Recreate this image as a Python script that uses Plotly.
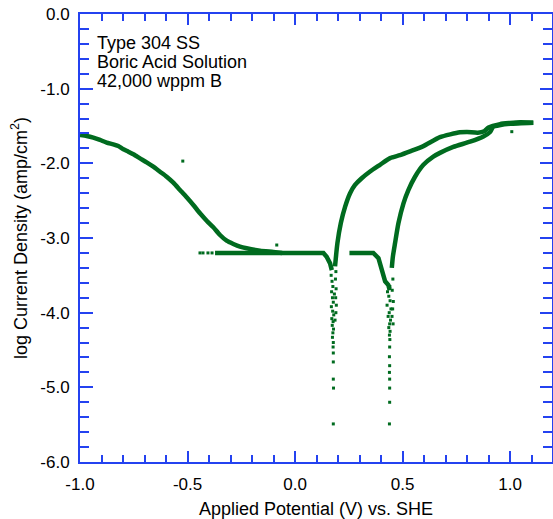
import plotly.graph_objects as go

GREEN = "#006b1f"
BLUE = "#2442f0"
FONT = "Liberation Sans, Arial, Helvetica, sans-serif"

# Cathodic branch (forward scan from -1.0 V)
cath_v = [-1.0, -0.969, -0.938, -0.907, -0.876, -0.845, -0.822, -0.798, -0.775, -0.752,
          -0.721, -0.690, -0.659, -0.628, -0.597, -0.566, -0.535, -0.504, -0.473, -0.442,
          -0.411, -0.380, -0.349, -0.318, -0.287, -0.256, -0.225, -0.163, -0.101, -0.06]
cath_logi = [-1.620, -1.634, -1.656, -1.687, -1.723, -1.745, -1.768, -1.812, -1.844, -1.879,
             -1.933, -1.986, -2.045, -2.112, -2.179, -2.259, -2.357, -2.455, -2.558, -2.669,
             -2.768, -2.857, -2.960, -3.036, -3.080, -3.116, -3.138, -3.170, -3.187, -3.20]

# Passive plateau 1
pas1_v = [-0.372, -0.2, 0.0, 0.132, 0.147, 0.163, 0.171]
pas1_logi = [-3.20, -3.20, -3.20, -3.20, -3.25, -3.34, -3.43]

# Anodic branch (forward scan, upper curve)
an_v = [0.186, 0.197, 0.213, 0.233, 0.256, 0.279, 0.310, 0.349, 0.395, 0.442, 0.488,
        0.535, 0.597, 0.674, 0.767, 0.80, 0.85, 0.88, 0.90, 0.953, 1.0, 1.047, 1.108]
an_logi = [-3.38, -3.07, -2.80, -2.58, -2.40, -2.29, -2.20, -2.11, -2.02, -1.93, -1.89,
           -1.84, -1.77, -1.65, -1.585, -1.58, -1.59, -1.57, -1.52, -1.475, -1.46, -1.45, -1.455]

# Reverse scan (lower curve)
rev_v = [1.108, 1.0, 0.95, 0.922, 0.907, 0.876, 0.814, 0.736, 0.674, 0.643, 0.597,
         0.558, 0.527, 0.504, 0.481, 0.465, 0.455, 0.450]
rev_logi = [-1.455, -1.47, -1.49, -1.51, -1.58, -1.64, -1.71, -1.78, -1.86, -1.91, -2.02,
            -2.18, -2.36, -2.54, -2.80, -3.07, -3.25, -3.40]

# Passive plateau 2
pas2_v = [0.253, 0.30, 0.364, 0.388, 0.395, 0.411, 0.419, 0.434, 0.440]
pas2_logi = [-3.20, -3.20, -3.20, -3.27, -3.34, -3.45, -3.58, -3.63, -3.70]

# Scattered points around the first current minimum
sp1_v = [0.168, 0.172, 0.176, 0.170, 0.174, 0.178, 0.169, 0.175, 0.180, 0.171, 0.177,
         0.173, 0.179, 0.176, 0.174, 0.178, 0.177, 0.178, 0.178, 0.178, 0.179, 0.178,
         0.190, 0.188, 0.191, 0.189, 0.192, 0.190, 0.186, 0.183]
sp1_logi = [-3.50, -3.58, -3.65, -3.72, -3.80, -3.86, -3.92, -3.98, -4.03, -4.08, -4.12,
            -4.17, -4.22, -4.27, -4.33, -4.40, -4.46, -4.54, -4.66, -4.89, -5.01, -5.49,
            -3.45, -3.55, -3.68, -3.80, -3.90, -4.00, -4.10, -3.75]

# Scattered points around the second current minimum
sp2_v = [0.430, 0.436, 0.442, 0.428, 0.446, 0.438, 0.433, 0.444, 0.440, 0.436, 0.442,
         0.439, 0.441, 0.440, 0.439, 0.440, 0.439, 0.440, 0.440, 0.440, 0.439, 0.441,
         0.455, 0.452, 0.457, 0.454, 0.451, 0.456]
sp2_logi = [-3.72, -3.78, -3.84, -3.90, -3.95, -4.00, -4.05, -4.10, -4.15, -4.20, -4.25,
            -4.30, -4.36, -4.46, -4.59, -4.71, -4.80, -4.89, -5.01, -5.20, -5.49, -3.65,
            -3.55, -3.70, -3.85, -3.95, -4.05, -4.15]

# Stray points
stray_v = [-0.442, -0.428, -0.405, -0.386, -0.522, -0.085, 1.008]
stray_logi = [-3.20, -3.20, -3.20, -3.20, -1.97, -3.094, -1.576]

# Tick values and labels
x_ticks = [-1.0, -0.5, 0.0, 0.5, 1.0]
x_tick_text = ["-1.0", "-0.5", "0.0", "0.5", "1.0"]
y_ticks = [0, -1, -2, -3, -4, -5, -6]
y_tick_text = ["0.0", "-1.0", "-2.0", "-3.0", "-4.0", "-5.0", "-6.0"]

# Annotation text
label_lines = ["Type 304 SS", "Boric Acid Solution", "42,000 wppm B"]
label_y = [-0.39, -0.645, -0.90]

fig = go.Figure()


def add_line(v, y, w=4.5, shape="linear"):
    fig.add_trace(go.Scatter(x=v, y=y, mode="lines",
                             line=dict(color=GREEN, width=w, shape=shape, smoothing=0.6),
                             hoverinfo="skip", showlegend=False))


def add_pts(v, y, s=3):
    fig.add_trace(go.Scatter(x=v, y=y, mode="markers",
                             marker=dict(color=GREEN, size=s, symbol="square", line=dict(width=0)),
                             hoverinfo="skip", showlegend=False))


add_line(cath_v, cath_logi, shape="spline")
add_line(pas1_v, pas1_logi)
add_line(an_v, an_logi, shape="spline")
add_line(rev_v, rev_logi, shape="spline")
add_line(pas2_v, pas2_logi)
add_pts(sp1_v, sp1_logi)
add_pts(sp2_v, sp2_logi)
add_pts(stray_v, stray_logi)

for txt, yy in zip(label_lines, label_y):
    fig.add_annotation(x=-0.93, y=yy, xref="x", yref="y", text=txt, showarrow=False,
                       xanchor="left", yanchor="middle",
                       font=dict(family=FONT, size=18, color="black"))

axis_common = dict(
    showgrid=False, zeroline=False, showline=True, linecolor=BLUE, linewidth=2,
    mirror="allticks", ticks="inside", tickcolor=BLUE, tickwidth=2,
    tickfont=dict(family=FONT, size=17, color="black"),
    tickmode="array",
)

fig.update_xaxes(
    **axis_common, range=[-1.0, 1.195], tickvals=x_ticks, ticktext=x_tick_text,
    ticklen=11, ticklabelstandoff=6,
    minor=dict(dtick=0.1, tick0=0, ticks="inside", ticklen=7, tickwidth=2,
               tickcolor=BLUE, showgrid=False),
    title=dict(text="Applied Potential (V) vs. SHE",
               font=dict(family=FONT, size=18, color="black"), standoff=10),
)
fig.update_yaxes(
    **axis_common, range=[-6, 0], tickvals=y_ticks, ticktext=y_tick_text,
    ticklen=12.5, ticklabelstandoff=5,
    minor=dict(dtick=0.2, tick0=0, ticks="inside", ticklen=9, tickwidth=2,
               tickcolor=BLUE, showgrid=False),
    title=dict(text="log Current Density (amp/cm<sup>2</sup>)",
               font=dict(family=FONT, size=18, color="black"), standoff=8),
)

fig.update_layout(
    width=553, height=519,
    margin=dict(l=80, r=1, t=14, b=57, autoexpand=False),
    plot_bgcolor="white", paper_bgcolor="white",
    showlegend=False,
)

fig.write_html("out.html")
